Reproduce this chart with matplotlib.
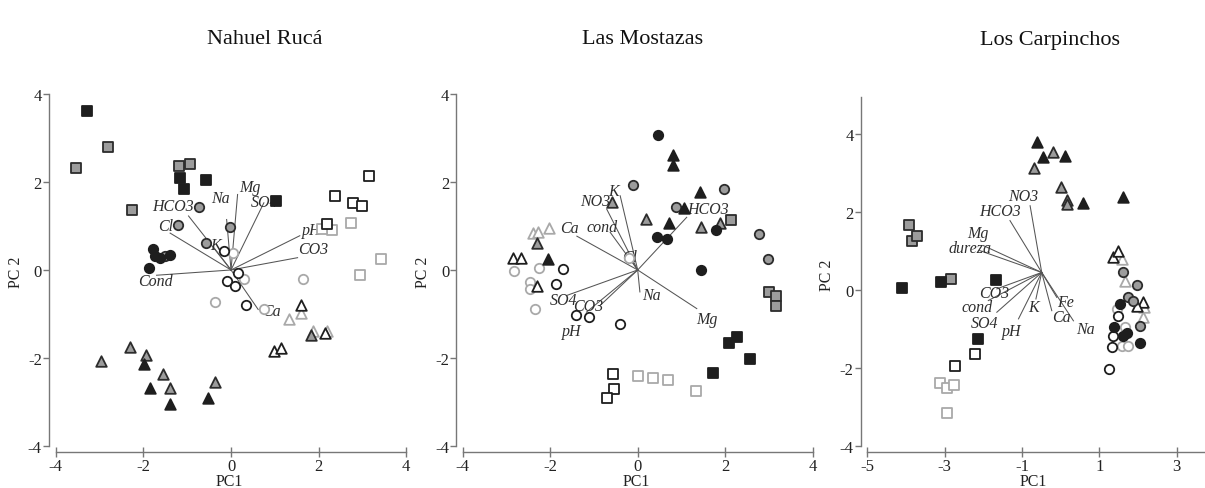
import matplotlib.pyplot as plt

plt.rcParams['font.family'] = ['Liberation Serif', 'DejaVu Serif']
plt.rcParams['axes.unicode_minus'] = False

titles = ['Nahuel Rucá', 'Las Mostazas', 'Los Carpinchos']

# marker code: shape (s square, o circle, t triangle) + fill (k black, g grey, w open, l open light)
nr_pc1 = [-3.29, -1.16, -0.56, -1.08, 1.03,
          -2.81, -3.55, -1.18, -0.94, -2.26,
          3.16, 2.38, 2.78, 2.98, 2.19,
          2.74, 2.30, 3.42, 2.95, 2.08,
          -0.72, -1.22, -0.02, -0.58, -1.50,
          -1.77, -1.74, -1.62, -1.39, -1.87,
          -0.17, 0.17, -0.09, 0.10, 0.34,
          0.05, 0.30, 1.65, -0.37, 0.76,
          -1.98, -1.86, -1.40, -0.52,
          -2.31, -2.96, -1.95, -1.55, -1.39, -0.36, 1.83,
          1.59, 0.97, 1.15, 2.14,
          1.32, 1.59, 1.88, 2.18]
nr_pc2 = [3.62, 2.10, 2.06, 1.84, 1.57,
          2.80, 2.32, 2.36, 2.41, 1.36,
          2.14, 1.68, 1.52, 1.46, 1.04,
          1.06, 0.91, 0.26, -0.12, 0.93,
          1.44, 1.03, 0.99, 0.62, 0.32,
          0.48, 0.31, 0.27, 0.35, 0.05,
          0.43, -0.06, -0.25, -0.36, -0.79,
          0.38, -0.20, -0.21, -0.74, -0.90,
          -2.14, -2.68, -3.06, -2.91,
          -1.76, -2.07, -1.93, -2.38, -2.69, -2.55, -1.48,
          -0.79, -1.85, -1.77, -1.43,
          -1.12, -0.97, -1.40, -1.38]
nr_code = ['sk'] * 5 + ['sg'] * 5 + ['sw'] * 5 + ['sl'] * 5 + \
          ['og'] * 5 + ['ok'] * 5 + ['ow'] * 5 + ['ol'] * 5 + \
          ['tk'] * 4 + ['tg'] * 7 + ['tw'] * 4 + ['tl'] * 4

lm_pc1 = [0.47, 0.43, 0.67, 1.79, 1.44,
          -0.10, 1.97, 0.88, 2.78, 2.98,
          -1.70, -1.87, -1.42, -1.11, -0.40,
          -2.82, -2.26, -2.46, -2.45, -2.35, -0.21,
          0.81, 0.81, 1.43, 1.06, 0.72, -2.04,
          -0.59, 0.19, 1.44, 1.88, -2.31,
          -2.85, -2.66, -2.29,
          -2.40, -2.27, -2.02,
          2.14, 2.99, 3.15, 3.17,
          2.08, 2.28, 2.57, 1.73,
          -0.56, -0.54, -0.71,
          0.0, 0.36, 0.70, 1.34]
lm_pc2 = [3.08, 0.76, 0.70, 0.91, 0.0,
          1.93, 1.85, 1.44, 0.81, 0.24,
          0.02, -0.32, -1.03, -1.06, -1.24,
          -0.02, 0.05, -0.27, -0.44, -0.90, 0.27,
          2.61, 2.39, 1.78, 1.42, 1.06, 0.24,
          1.55, 1.17, 0.97, 1.08, 0.62,
          0.28, 0.28, -0.36,
          0.84, 0.87, 0.95,
          1.14, -0.50, -0.59, -0.81,
          -1.66, -1.52, -2.02, -2.34,
          -2.36, -2.71, -2.91,
          -2.42, -2.45, -2.51, -2.76]
lm_code = ['ok'] * 5 + ['og'] * 5 + ['ow'] * 5 + ['ol'] * 6 + \
          ['tk'] * 6 + ['tg'] * 5 + ['tw'] * 3 + ['tl'] * 3 + \
          ['sg'] * 4 + ['sk'] * 4 + ['sw'] * 3 + ['sl'] * 4

lc_pc1 = [-0.62, -0.45, 0.11, 0.57, 1.60,
          -0.19, -0.68, 0.0, 0.16, 0.16,
          -3.93, -3.83, -3.71, -2.84,
          -4.09, -3.08, -1.68, -2.13,
          -2.22, -2.74,
          -3.12, -2.95, -2.75, -2.95,
          1.36, 1.49, 2.14, 1.97,
          1.59, 1.66, 2.14, 2.15,
          1.62, 1.97, 1.75, 1.86, 2.05,
          1.53, 1.38, 1.71, 1.62, 2.05,
          1.49, 1.36, 1.32, 1.25,
          1.45, 1.58, 1.75, 1.66]
lc_pc2 = [3.79, 3.40, 3.43, 2.23, 2.38,
          3.53, 3.12, 2.63, 2.32, 2.21,
          1.67, 1.26, 1.39, 0.28,
          0.05, 0.20, 0.26, -1.26,
          -1.64, -1.94,
          -2.39, -2.50, -2.44, -3.16,
          0.84, 1.01, -0.32, -0.40,
          0.79, 0.24, -0.70, -0.44,
          0.45, 0.13, -0.19, -0.27, -0.91,
          -0.36, -0.96, -1.09, -1.17, -1.37,
          -0.66, -1.17, -1.47, -2.03,
          -0.49, -1.43, -1.43, -0.96]
lc_code = ['tk'] * 5 + ['tg'] * 5 + ['sg'] * 4 + ['sk'] * 4 + ['sw'] * 2 + ['sl'] * 4 + \
          ['tw'] * 4 + ['tl'] * 4 + ['og'] * 5 + ['ok'] * 5 + ['ow'] * 4 + ['ol'] * 4

# loadings: variable, line end, label position
nr_var = ['Cond', 'Cl', 'HCO3', 'K', 'Na', 'Mg', 'SO4', 'pH', 'CO3', 'Ca']
nr_end_x = [-1.70, -1.39, -0.97, -0.40, -0.10, 0.15, 0.75, 1.57, 1.52, 0.62]
nr_end_y = [-0.12, 0.84, 1.23, 0.52, 1.15, 1.72, 1.53, 0.78, 0.28, -0.90]
nr_lab_x = [-1.73, -1.49, -1.32, -0.36, -0.25, 0.43, 0.77, 1.84, 1.88, 0.93]
nr_lab_y = [-0.25, 1.00, 1.46, 0.57, 1.65, 1.88, 1.55, 0.91, 0.47, -0.93]
nr_origin = (0.0, 0.0)

lm_var = ['K', 'NO3', 'Ca', 'cond', 'Cl', 'HCO3', 'Na', 'Mg', 'SO4', 'CO3', 'pH']
lm_end_x = [-0.40, -0.71, -1.39, -0.63, -0.12, 1.12, 0.05, 1.35, -1.62, -0.86, -1.17]
lm_end_y = [1.69, 1.39, 0.77, 0.86, 0.18, 1.20, -0.50, -0.88, -0.58, -0.81, -0.96]
lm_lab_x = [-0.56, -0.98, -1.55, -0.82, -0.18, 1.61, 0.32, 1.58, -1.70, -1.13, -1.51]
lm_lab_y = [1.81, 1.58, 0.96, 0.98, 0.29, 1.39, -0.58, -1.11, -0.69, -0.81, -1.38]
lm_origin = (0.0, 0.0)

lc_var = ['NO3', 'HCO3', 'Mg', 'dureza', 'CO3', 'cond', 'SO4', 'pH', 'K', 'Fe', 'Ca', 'Na']
lc_end_x = [-0.79, -1.31, -2.00, -2.09, -1.65, -1.87, -1.65, -1.09, -0.64, -0.10, -0.23, 0.33]
lc_end_y = [2.16, 1.78, 1.14, 1.01, 0.03, -0.27, -0.57, -0.74, -0.23, -0.19, -0.53, -0.79]
lc_lab_x = [-0.97, -1.57, -2.15, -2.34, -1.72, -2.15, -1.96, -1.27, -0.71, 0.13, 0.03, 0.63]
lc_lab_y = [2.42, 2.03, 1.45, 1.08, -0.08, -0.43, -0.85, -1.04, -0.44, -0.30, -0.68, -1.00]
lc_origin = (-0.49, 0.45)

W, H = 1205, 489
fig = plt.figure(figsize=(W / 100, H / 100), dpi=100)

fills = {'k': ('#1e1e1e', '#1e1e1e'), 'g': ('#9c9c9c', '#2c2c2c'),
         'w': ('white', '#1e1e1e'), 'l': ('white', '#a9a9a9')}
shapes = {'s': ('s', 52), 'o': ('o', 46), 't': ('^', 58)}


def rect(left, right, bottom, top):
    return [left / W, 1 - bottom / H, (right - left) / W, (bottom - top) / H]


panels = [
    dict(pc1=nr_pc1, pc2=nr_pc2, code=nr_code, var=nr_var, ex=nr_end_x, ey=nr_end_y,
         lx=nr_lab_x, ly=nr_lab_y, origin=nr_origin,
         xlim=(-4.16, 4.1), ylim=(-4.14, 4.1), box=rect(48.8, 410.6, 452.7, 91),
         xt=[-4, -2, 0, 2, 4], xb=(-4, 4), yb=(-4, 4), tx=265),
    dict(pc1=lm_pc1, pc2=lm_pc2, code=lm_code, var=lm_var, ex=lm_end_x, ey=lm_end_y,
         lx=lm_lab_x, ly=lm_lab_y, origin=lm_origin,
         xlim=(-4.15, 4.1), ylim=(-4.14, 4.1), box=rect(456.1, 817.1, 452.7, 91),
         xt=[-4, -2, 0, 2, 4], xb=(-4, 4), yb=(-4, 4), tx=643),
    dict(pc1=lc_pc1, pc2=lc_pc2, code=lc_code, var=lc_var, ex=lc_end_x, ey=lc_end_y,
         lx=lc_lab_x, ly=lc_lab_y, origin=lc_origin,
         xlim=(-5.17, 3.75), ylim=(-4.15, 4.94), box=rect(860.6, 1205.8, 452.9, 98.3),
         xt=[-5, -3, -1, 1, 3], xb=(-5, 3.75), yb=(-4, 4.94), tx=1050),
]

for title, p in zip(titles, panels):
    ax = fig.add_axes(p['box'])
    ax.set_xlim(p['xlim'])
    ax.set_ylim(p['ylim'])
    ox, oy = p['origin']
    for v, ex, ey, lx, ly in zip(p['var'], p['ex'], p['ey'], p['lx'], p['ly']):
        ax.plot([ox, ex], [oy, ey], color='#555555', lw=0.75, zorder=1)
        ax.text(lx, ly, v, style='italic', fontsize=11.5, color='#2e2e2e',
                ha='center', va='center', zorder=2)
    for f in ['l', 'w', 'g', 'k']:
        for s in ['s', 'o', 't']:
            xs = [x for x, c in zip(p['pc1'], p['code']) if c == s + f]
            ys = [y for y, c in zip(p['pc2'], p['code']) if c == s + f]
            if not xs:
                continue
            m, size = shapes[s]
            ax.scatter(xs, ys, marker=m, s=size, facecolor=fills[f][0],
                       edgecolor=fills[f][1], linewidths=1.3, zorder=3, clip_on=False)
    for side in ['top', 'right']:
        ax.spines[side].set_visible(False)
    for side in ['left', 'bottom']:
        ax.spines[side].set_color('#777777')
        ax.spines[side].set_linewidth(1.0)
    ax.spines['bottom'].set_bounds(*p['xb'])
    ax.spines['left'].set_bounds(*p['yb'])
    ax.set_xticks(p['xt'])
    ax.set_yticks([-4, -2, 0, 2, 4])
    ax.tick_params(axis='x', direction='inout', length=7, width=1.0, color='#777777',
                   labelsize=12, labelcolor='#222222', pad=1)
    ax.tick_params(axis='y', direction='out', length=4, width=1.0, color='#777777',
                   labelsize=12, labelcolor='#222222', pad=1)
    ax.set_xlabel('PC1', fontsize=11.5, color='#222222', labelpad=-1)
    ax.set_ylabel('PC 2', fontsize=11.5, color='#222222', labelpad=3)
    ax.patch.set_visible(False)
    fig.text(p['tx'] / W, 1 - 40 / H, title, fontsize=16, ha='center', va='center',
             color='#111111')

fig.savefig('out.png', dpi=100)
